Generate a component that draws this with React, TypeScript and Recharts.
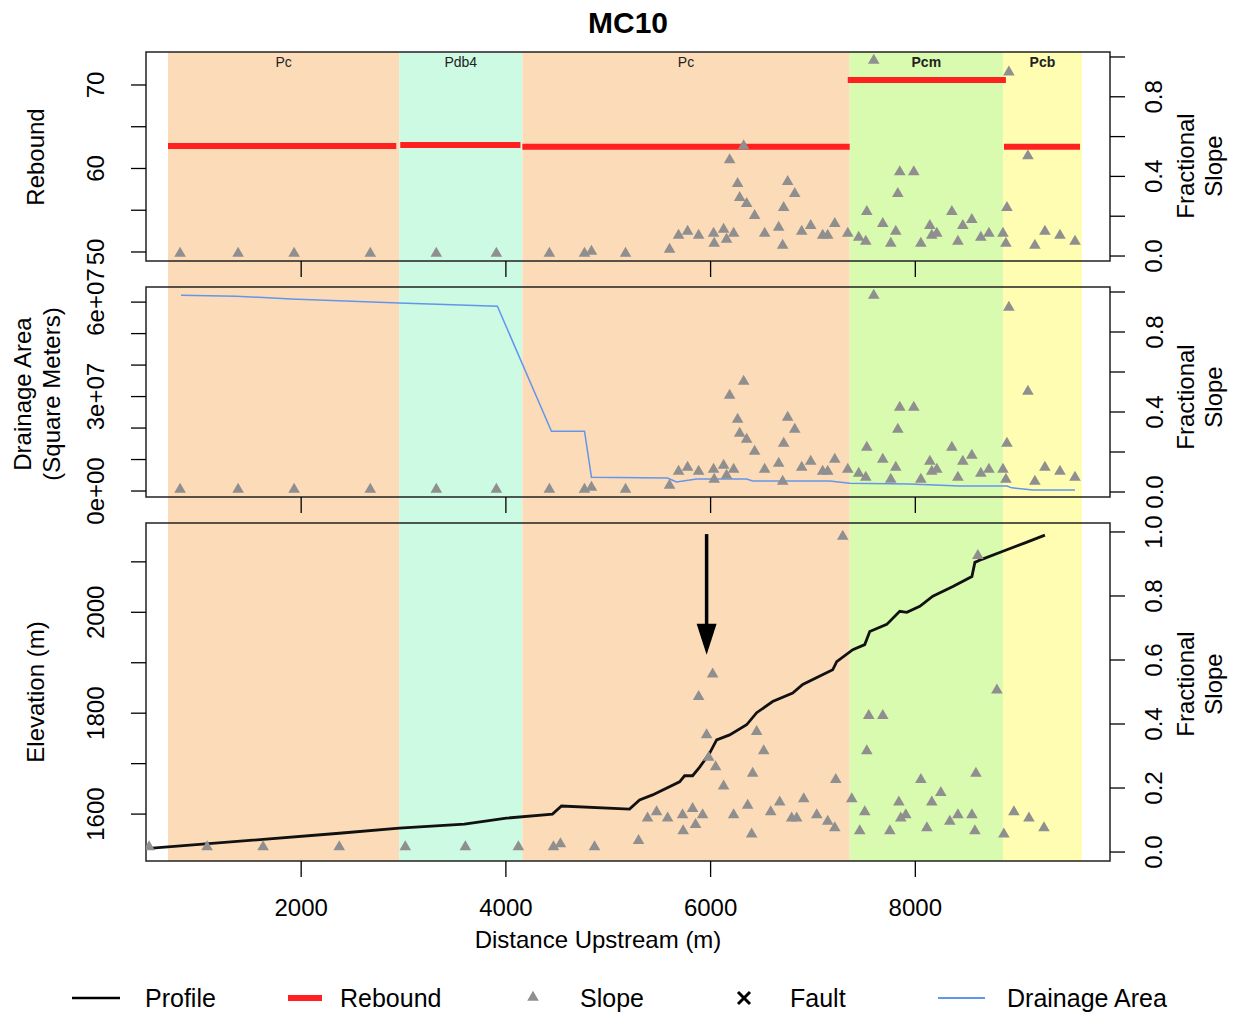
import React from "react";
import {
  ComposedChart,
  XAxis,
  YAxis,
  Line,
  Scatter,
  ReferenceArea,
  ReferenceLine,
  ReferenceDot,
} from "recharts";

const W = 1235;
const H = 1019;
const FONT = '"Liberation Sans", Arial, Helvetica, sans-serif';

// geologic units along the channel (m upstream)
const unitNames = ["Pc", "Pdb4", "Pc", "Pcm", "Pcb"];
const unitStart = [699, 2958, 4161, 7359, 8856];
const unitEnd = [2958, 4161, 7359, 8856, 9628];
const unitColors = ["#fcdcb8", "#ccfae2", "#fcdcb8", "#d9fbb0", "#fefdb2"];
const unitBold = [false, false, false, true, true];

// mean rebound per unit
const reboundStart = [699, 2968, 4161, 7340, 8866];
const reboundEnd = [2929, 4142, 7359, 8885, 9609];
const reboundValue = [62.7, 62.8, 62.6, 70.6, 62.6];

// fractional slope samples
const slopeDist = [
  817, 1384, 1931, 2675, 3320, 3907, 4425, 4768, 4836, 5169, 5599, 5687, 5775, 5883, 6029,
  6035, 6127, 6156, 6186, 6225, 6264, 6284, 6323, 6352, 6430, 6528, 6665, 6704, 6714, 6753,
  6822, 6890, 6978, 7095, 7144, 7213, 7340, 7447, 7516, 7526, 7594, 7682, 7760, 7809, 7829,
  7848, 7985, 8054, 8142, 8161, 8210, 8357, 8416, 8464, 8552, 8640, 8719, 8856, 8885, 8895,
  8914, 9100, 9168, 9266, 9413, 9560,
];
const slopeValue = [
  0.02, 0.02, 0.02, 0.02, 0.02, 0.02, 0.02, 0.02, 0.03, 0.02, 0.04, 0.11, 0.13, 0.11, 0.12,
  0.07, 0.14, 0.09, 0.49, 0.12, 0.37, 0.3, 0.56, 0.27, 0.21, 0.12, 0.15, 0.06, 0.25, 0.38,
  0.32, 0.13, 0.16, 0.11, 0.11, 0.17, 0.12, 0.1, 0.08, 0.23, 0.99, 0.17, 0.07, 0.13, 0.32,
  0.43, 0.43, 0.07, 0.16, 0.11, 0.12, 0.23, 0.08, 0.16, 0.19, 0.1, 0.12, 0.12, 0.07, 0.25,
  0.93, 0.51, 0.06, 0.13, 0.11, 0.08,
];
// slope points sit ~300 m further downstream on the profile panel
const profileSlopeShift = 303;

// long profile
const profileDist = [
  513, 2372, 2958, 3594, 4005, 4455, 4543, 5208, 5306, 5433, 5697, 5746, 5824, 5893, 5991,
  6059, 6186, 6352, 6450, 6606, 6802, 6900, 7193, 7232, 7389, 7506, 7555, 7721, 7848, 7917,
  8044, 8171, 8367, 8553, 8582, 8650, 8856, 9091, 9266,
];
const profileElev = [
  1532, 1562, 1572, 1580, 1592, 1600, 1616, 1610, 1628, 1638, 1664, 1676, 1676, 1693, 1721,
  1747, 1757, 1777, 1801, 1823, 1840, 1857, 1886, 1902, 1926, 1936, 1962, 1976, 2002, 2000,
  2012, 2032, 2051, 2071, 2099, 2105, 2121, 2139, 2153,
];

// drainage area (m^2)
const areaDist = [
  826, 1364, 1902, 2958, 3917, 4445, 4768, 4836, 5579, 5667, 5863, 6352, 6411, 7164, 7359,
  7946, 8435, 8895, 8944, 9149, 9560,
];
const areaValue = [
  6.22e7, 6.19e7, 6.1e7, 5.97e7, 5.87e7, 1.9e7, 1.9e7, 4.4e6, 4.1e6, 2.9e6, 3.8e6, 3.8e6,
  3.2e6, 3.2e6, 2.5e6, 2.2e6, 1.6e6, 1.6e6, 1.0e6, 3e5, 3e5,
];

// knickpoint arrow
const arrowX = 5961;
const arrowTop = 2155;
const arrowBase = 1972;
const arrowTip = 1916;

const xTicks = [2000, 4000, 6000, 8000];
const X_DOMAIN: [number, number] = [484, 9902];
const slopeTicks = [0, 0.2, 0.4, 0.6, 0.8, 1];

const slopeData = slopeDist.map((x, i) => ({ x, s: slopeValue[i] }));
const slopeDataProfile = slopeDist.map((x, i) => ({ x: x - profileSlopeShift, s: slopeValue[i] }));
const profileData = profileDist.map((x, i) => ({ x, z: profileElev[i] }));
const areaData = areaDist.map((x, i) => ({ x, a: areaValue[i] }));
const reboundData = reboundStart.map((s, i) => [
  { x: s, r: reboundValue[i] },
  { x: reboundEnd[i], r: reboundValue[i] },
]);

const tickLineStyle = { stroke: "#000", strokeWidth: 1.3 };

const vText = (x: number, y: number, s: string, size = 24) => (
  <text
    x={x}
    y={y}
    transform={`rotate(-90 ${x} ${y})`}
    textAnchor="middle"
    dominantBaseline="central"
    fontSize={size}
    fill="#000"
  >
    {s}
  </text>
);

const AxisTitle = ({ lines, tx, ty, gap = 29 }: any) => (
  <g>{lines.map((t: string, i: number) => <g key={i}>{vText(tx + i * gap, ty, t, 24)}</g>)}</g>
);

const AxisTitleH = ({ text, tx, ty }: any) => (
  <text x={tx} y={ty} textAnchor="middle" fontSize={24} fill="#000">
    {text}
  </text>
);

const Tri = (p: any) => {
  const { cx, cy } = p;
  const s = 5.8;
  return (
    <path
      d={`M${cx - s},${cy + 4.7} L${cx + s},${cy + 4.7} L${cx},${cy - 5.3} Z`}
      fill="#8f8f8f"
    />
  );
};

const ArrowHead = (p: any) => {
  const { cx, cy } = p;
  return <path d={`M${cx - 10},${cy - 31} L${cx + 10},${cy - 31} L${cx},${cy} Z`} fill="#000" />;
};

const sci = (v: number) => {
  const [m, e] = v.toExponential(0).split("e");
  const n = Number(e);
  return `${m}e${n < 0 ? "-" : "+"}${String(Math.abs(n)).padStart(2, "0")}`;
};

type AxisSpec = {
  domain: [number, number];
  ticks: number[];
  labels: number[];
  fmt: (v: number) => string;
  title: string[];
  titleX: number;
  titleY: number;
};

function Panel({
  top,
  bottom,
  xh,
  left,
  right,
  xLabels,
  children,
}: {
  top: number;
  bottom: number;
  xh: number;
  left: AxisSpec;
  right: AxisSpec;
  xLabels: boolean;
  children: React.ReactNode;
}) {
  return (
    <div style={{ position: "absolute", left: 0, top: 0 }}>
      <ComposedChart
        width={W}
        height={H}
        margin={{ top, bottom: H - bottom - xh, left: 0, right: 0 }}
      >
        <XAxis
          dataKey="x"
          type="number"
          domain={X_DOMAIN}
          allowDataOverflow
          ticks={xTicks}
          height={xh}
          axisLine={false}
          tickSize={16}
          tickLine={tickLineStyle}
          tick={(p: any) =>
            xLabels ? (
              <text x={p.x} y={916} textAnchor="middle" fontSize={24} fill="#000">
                {p.payload.value}
              </text>
            ) : (
              <g />
            )
          }
          label={
            xLabels ? (
              <AxisTitleH text="Distance Upstream (m)" tx={598} ty={948} />
            ) : undefined
          }
        />
        <YAxis
          yAxisId="left"
          type="number"
          domain={left.domain}
          allowDataOverflow
          ticks={left.ticks}
          width={146}
          axisLine={false}
          tickSize={15}
          tickLine={tickLineStyle}
          tick={(p: any) =>
            left.labels.includes(p.payload.value) ? vText(96, p.y, left.fmt(p.payload.value)) : <g />
          }
          label={<AxisTitle lines={left.title} tx={left.titleX} ty={left.titleY} />}
        />
        <YAxis
          yAxisId="right"
          orientation="right"
          type="number"
          domain={right.domain}
          allowDataOverflow
          ticks={right.ticks}
          width={125}
          axisLine={false}
          tickSize={15}
          tickLine={tickLineStyle}
          tick={(p: any) =>
            right.labels.includes(p.payload.value) ? vText(1154, p.y, right.fmt(p.payload.value)) : <g />
          }
          label={<AxisTitle lines={right.title} tx={right.titleX} ty={right.titleY} gap={28} />}
        />
        <ReferenceArea
          yAxisId="left"
          x1={X_DOMAIN[0]}
          x2={X_DOMAIN[1]}
          y1={left.domain[0]}
          y2={left.domain[1]}
          fill="none"
          stroke="#222"
          strokeWidth={1.5}
        />
        {children}
      </ComposedChart>
    </div>
  );
}

const slopeAxis = (labels: number[], titleY: number, domain: [number, number]): AxisSpec => ({
  domain,
  ticks: slopeTicks,
  labels,
  fmt: (v) => v.toFixed(1),
  title: ["Fractional", "Slope"],
  titleX: 1185,
  titleY,
});

function Legend() {
  const y = 998;
  return (
    <svg width={W} height={H} style={{ position: "absolute", left: 0, top: 0 }}>
      <line x1={72} x2={120} y1={y} y2={y} stroke="#000" strokeWidth={2.5} />
      <text x={145} y={y + 9} fontSize={25}>Profile</text>
      <line x1={288} x2={322} y1={y} y2={y} stroke="#ff2020" strokeWidth={6} />
      <text x={340} y={y + 9} fontSize={25}>Rebound</text>
      <Tri cx={533} cy={y - 2} />
      <text x={580} y={y + 9} fontSize={25}>Slope</text>
      <path d={`M738,${y - 6} L750,${y + 6} M750,${y - 6} L738,${y + 6}`} stroke="#000" strokeWidth={3} />
      <text x={790} y={y + 9} fontSize={25}>Fault</text>
      <line x1={938} x2={985} y1={y} y2={y} stroke="#6495ed" strokeWidth={2} />
      <text x={1007} y={y + 9} fontSize={25}>Drainage Area</text>
    </svg>
  );
}

export default function App() {
  return (
    <div
      style={{
        position: "absolute",
        left: 0,
        top: 0,
        width: W,
        height: H,
        background: "#fff",
        fontFamily: FONT,
      }}
    >
      {/* unit bands behind all three panels */}
      <div style={{ position: "absolute", left: 0, top: 0 }}>
        <ComposedChart width={W} height={H} margin={{ top: 52, bottom: H - 861, left: 146, right: W - 1110 }}>
          <XAxis dataKey="x" type="number" domain={X_DOMAIN} allowDataOverflow hide />
          <YAxis type="number" domain={[0, 1]} allowDataOverflow hide />
          {unitNames.map((n, i) => (
            <ReferenceArea
              key={i}
              x1={unitStart[i]}
              x2={unitEnd[i]}
              y1={0}
              y2={1}
              fill={unitColors[i]}
              fillOpacity={1}
              stroke="none"
              label={{
                value: n,
                position: "insideTop",
                offset: 5,
                fontSize: 14,
                fontWeight: unitBold[i] ? "bold" : "normal",
                fill: "#222",
              }}
            />
          ))}
        </ComposedChart>
      </div>

      <div
        style={{
          position: "absolute",
          left: 0,
          width: 1256,
          top: 6,
          textAlign: "center",
          fontSize: 30,
          fontWeight: "bold",
        }}
      >
        MC10
      </div>

      <Panel
        top={52}
        bottom={261}
        xh={30}
        xLabels={false}
        left={{
          domain: [48.92, 73.95],
          ticks: [50, 55, 60, 65, 70],
          labels: [50, 60, 70],
          fmt: (v) => String(v),
          title: ["Rebound"],
          titleX: 35,
          titleY: 157,
        }}
        right={slopeAxis([0, 0.4, 0.8], 166, [-0.025, 1.025])}
      >
        <Scatter yAxisId="right" data={slopeData} dataKey="s" shape={<Tri />} isAnimationActive={false} />
        {reboundData.map((d, i) => (
          <Line
            key={i}
            yAxisId="left"
            data={d}
            dataKey="r"
            stroke="#ff2020"
            strokeWidth={6}
            dot={false}
            activeDot={false}
            isAnimationActive={false}
          />
        ))}
      </Panel>

      <Panel
        top={287}
        bottom={497}
        xh={30}
        xLabels={false}
        left={{
          domain: [-1.9e6, 6.48e7],
          ticks: [0, 1e7, 2e7, 3e7, 4e7, 5e7, 6e7],
          labels: [0, 3e7, 6e7],
          fmt: sci,
          title: ["Drainage Area", "(Square Meters)"],
          titleX: 22,
          titleY: 394,
        }}
        right={slopeAxis([0, 0.4, 0.8], 397, [-0.025, 1.025])}
      >
        <Scatter yAxisId="right" data={slopeData} dataKey="s" shape={<Tri />} isAnimationActive={false} />
        <Line
          yAxisId="left"
          data={areaData}
          dataKey="a"
          stroke="#6495ed"
          strokeWidth={1.5}
          dot={false}
          activeDot={false}
          isAnimationActive={false}
        />
      </Panel>

      <Panel
        top={523}
        bottom={861}
        xh={60}
        xLabels={true}
        left={{
          domain: [1507, 2177],
          ticks: [1600, 1700, 1800, 1900, 2000, 2100],
          labels: [1600, 1800, 2000],
          fmt: (v) => String(v),
          title: ["Elevation (m)"],
          titleX: 35,
          titleY: 692,
        }}
        right={slopeAxis([0, 0.2, 0.4, 0.6, 0.8, 1], 684, [-0.028, 1.028])}
      >
        <Scatter yAxisId="right" data={slopeDataProfile} dataKey="s" shape={<Tri />} isAnimationActive={false} />
        <Line
          yAxisId="left"
          data={profileData}
          dataKey="z"
          stroke="#111"
          strokeWidth={2.8}
          dot={false}
          activeDot={false}
          isAnimationActive={false}
        />
        <ReferenceLine
          yAxisId="left"
          segment={[
            { x: arrowX, y: arrowTop },
            { x: arrowX, y: arrowBase },
          ]}
          stroke="#000"
          strokeWidth={3.5}
        />
        <ReferenceDot yAxisId="left" x={arrowX} y={arrowTip} shape={ArrowHead} />
      </Panel>

      <Legend />
    </div>
  );
}
